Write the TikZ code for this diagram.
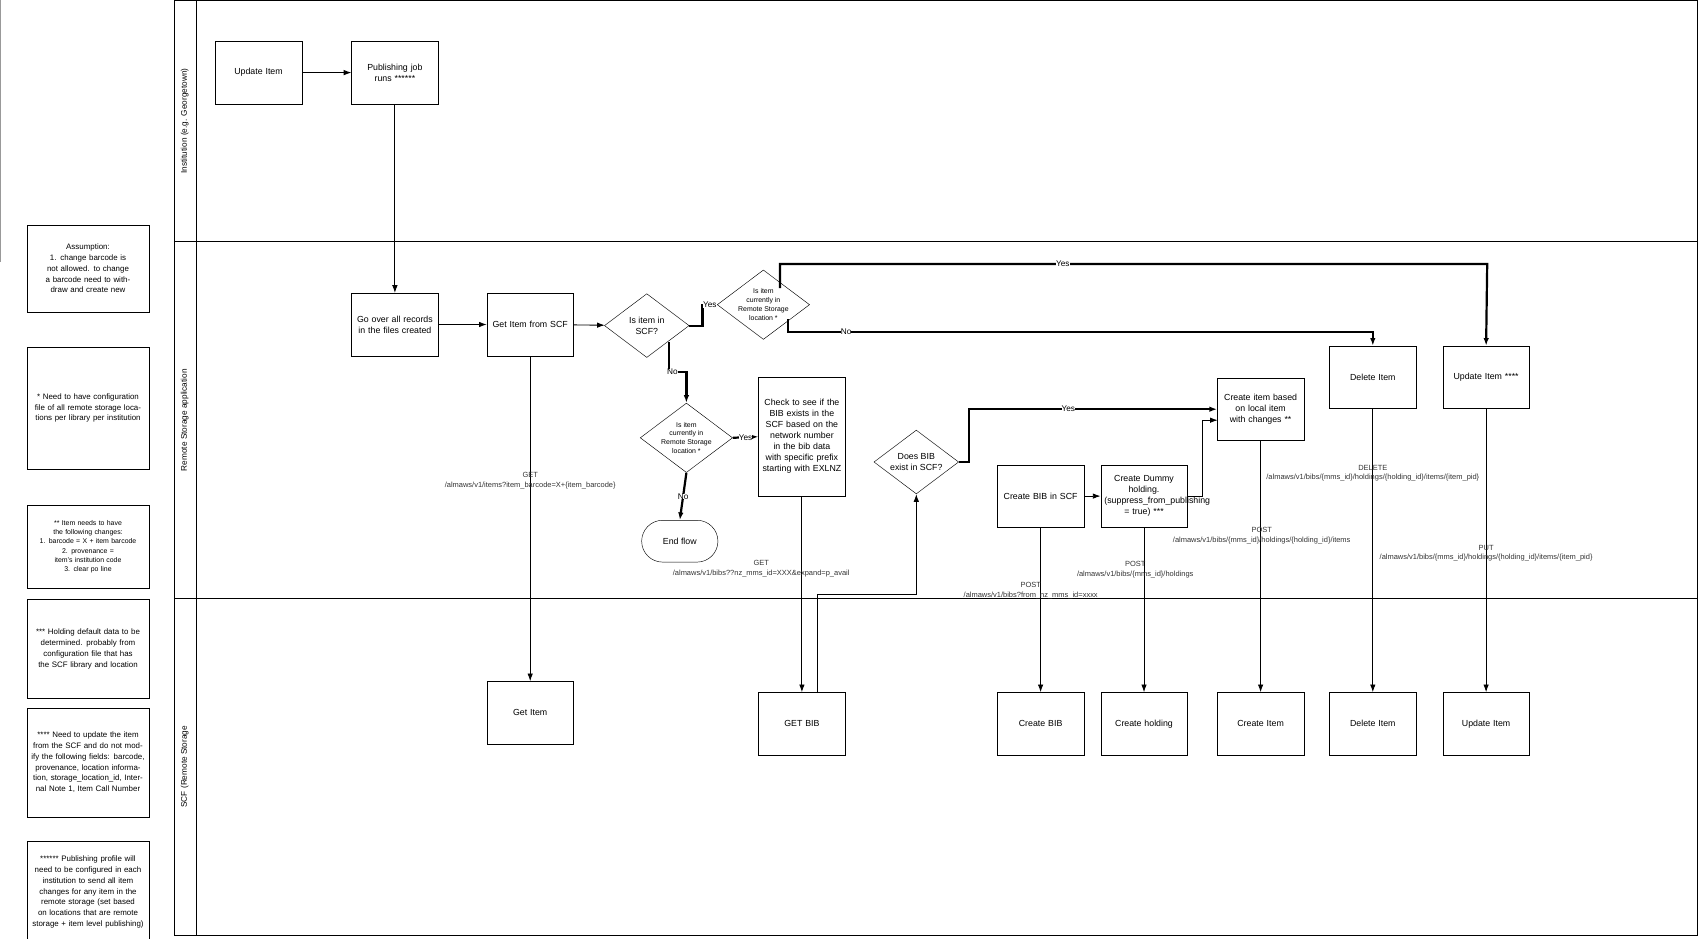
\documentclass[tikz,border=0pt]{standalone}
\usepackage{fontspec}
\setmainfont{Liberation Sans}
\usetikzlibrary{shapes.geometric,shapes.misc,arrows.meta}

\tikzset{
  task/.style={draw,minimum width=76pt,minimum height=57pt,align=center,text width=72pt,font=\fontsize{8}{10}\selectfont},
  note/.style={draw,minimum width=109pt,align=center,text width=104pt,font=\fontsize{7.2}{9.8}\selectfont},
  ask/.style={draw,diamond,aspect=1.33,minimum width=77pt,minimum height=58pt,inner sep=0pt,align=center,font=\fontsize{8}{10}\selectfont},
  ask small/.style={ask,font=\fontsize{6.3}{8}\selectfont},
  flow/.style={-{Latex[length=7pt,width=5pt]},line width=0.8pt},
  bold flow/.style={flow,line width=2pt},
  api/.style={font=\fontsize{6.8}{8.5}\selectfont,text=black!80,align=center,inner sep=0pt},
  tag/.style={font=\fontsize{7.5}{9}\selectfont,inner sep=0pt}
}

\begin{document}
\begin{tikzpicture}[x=1pt,y=-1pt]
\useasboundingbox (0,0) rectangle (1550,853);
% lanes
\draw[black!40] (0,0) -- (0,238);
\draw (158,0) rectangle (1543,850);
\draw (178,0) -- (178,850);
\draw (158,219) -- (1543,219);
\draw (158,544) -- (1543,544);
\node[rotate=90,font=\fontsize{7.5}{9}\selectfont] at (168,110) {Institution (e.g. Georgetown)};
\node[rotate=90,font=\fontsize{7.5}{9}\selectfont] at (168,382) {Remote Storage application};
\node[rotate=90,font=\fontsize{7.5}{9}\selectfont] at (168,697) {SCF (Remote Storage};

% notes
\node[note,minimum height=79pt] (n0) at (80,244) {Assumption:\\1. change barcode is not allowed. to change a barcode need to withdraw and create new};
\node[note,minimum height=111pt] (n1) at (80,371) {* Need to have configuration file of all remote storage locations per library per institution};
\node[note,minimum height=76pt,font=\fontsize{6.3}{8.3}\selectfont] (n2) at (80,497) {** Item needs to have the following changes:\\1. barcode = X + item barcode\\2. provenance = item's institution code\\3. clear po line};
\node[note,minimum height=90pt] (n3) at (80,590) {*** Holding default data to be determined. probably from configuration file that has the SCF library and location};
\node[note,minimum height=99pt] (n4) at (80,693) {**** Need to update the item from the SCF and do not modify the following fields: barcode, provenance, location information, storage\_location\_id, Internal Note 1, Item Call Number};
\node[note,minimum height=93pt] (n5) at (80,811) {****** Publishing profile will need to be configured in each institution to send all item changes for any item in the remote storage (set based on locations that are remote storage + item level publishing)};

% institution lane
\node[task] (upd) at (235,66) {Update Item};
\node[task] (pub) at (359,66) {Publishing job runs ******};

% remote storage application lane
\node[task] (scan) at (359,295) {Go over all records in the files created};
\node[task] (get) at (482,295) {Get Item from SCF};
\node[ask] (inscf) at (588,296) {Is item in\\SCF?};
\node[ask small] (loc1) at (694,277) {Is item\\currently in\\Remote Storage\\location *};
\node[ask small] (loc2) at (624,398) {Is item\\currently in\\Remote Storage\\location *};
\node[draw,rounded rectangle,minimum width=76pt,minimum height=38pt,font=\fontsize{8}{10}\selectfont] (end) at (618,492) {End flow};
\node[task,minimum height=109pt] (check) at (729,397) {Check to see if the BIB exists in the SCF based on the network number in the bib data with specific prefix starting with EXLNZ};
\node[ask] (hasbib) at (833,420) {Does BIB\\exist in SCF?};
\node[task] (mkbib) at (946,451) {Create BIB in SCF};
\node[task] (mkhold) at (1040,451) {Create Dummy holding.\\(suppress\_from\_publishing = true) ***};
\node[task] (mkitem) at (1146,372) {Create item based on local item with changes **};
\node[task] (del) at (1248,343) {Delete Item};
\node[task] (upd2) at (1351,343) {Update Item ****};

% SCF lane
\node[task] (sget) at (482,648) {Get Item};
\node[task] (sbib) at (729,658) {GET BIB};
\node[task] (scbib) at (946,658) {Create BIB};
\node[task] (schold) at (1040,658) {Create holding};
\node[task] (scitem) at (1146,658) {Create Item};
\node[task] (sdel) at (1248,658) {Delete Item};
\node[task] (supd) at (1351,658) {Update Item};

% connectors
\draw[flow] (upd) -- (pub);
\draw[flow] (pub) -- (scan);
\draw[flow] (scan) -- (get);
\draw[flow] (get) -- (inscf);
\draw[flow] (get) -- (sget);
\draw[bold flow] (inscf.east) -- ++(12,0) |- (loc1.west) node[pos=0.75,fill=white,tag] {Yes};
\draw[bold flow] (608,311) |- (624,338) node[pos=0.6,fill=white,tag] {No} -- (loc2.north);
\draw[bold flow] (709,262) |- (1352,240) node[pos=0.7,fill=white,tag] {Yes} -- (upd2.north);
\draw[bold flow] (716,290) |- (1248,302) node[pos=0.55,fill=white,tag] {No} -- (del.north);
\draw[bold flow] (loc2.east) -- (check.west) node[midway,fill=white,tag] {Yes};
\draw[bold flow] (loc2.south) -- (end.north) node[midway,fill=white,tag] {No};
\draw[flow] (check) -- (sbib);
\draw[flow] (743,630) |- (833,540) -- (hasbib.south);
\draw[bold flow] (hasbib.east) -| (881,372) -- (mkitem.west) node[pos=0.4,fill=white,tag] {Yes};
\draw[flow] (mkbib) -- (mkhold);
\draw[flow] (mkhold.east) -| (1093,382) -- (1107,382);
\draw[flow] (mkbib) -- (scbib);
\draw[flow] (mkhold) -- (schold);
\draw[flow] (mkitem) -- (scitem);
\draw[flow] (del) -- (sdel);
\draw[flow] (upd2) -- (supd);

% api labels
\node[api] at (482,437) {GET\\/almaws/v1/items?item\_barcode=X+\{item\_barcode\}};
\node[api] at (692,517) {GET\\/almaws/v1/bibs??nz\_mms\_id=XXX\&expand=p\_avail};
\node[api] at (937,537) {POST\\/almaws/v1/bibs?from\_nz\_mms\_id=xxxx};
\node[api] at (1032,518) {POST\\/almaws/v1/bibs/\{mms\_id\}/holdings};
\node[api] at (1147,487) {POST\\/almaws/v1/bibs/\{mms\_id\}/holdings/\{holding\_id\}/items};
\node[api] at (1248,430) {DELETE\\/almaws/v1/bibs/\{mms\_id\}/holdings/\{holding\_id\}/items/\{item\_pid\}};
\node[api] at (1351,503) {PUT\\/almaws/v1/bibs/\{mms\_id\}/holdings/\{holding\_id\}/items/\{item\_pid\}};
\end{tikzpicture}
\end{document}
